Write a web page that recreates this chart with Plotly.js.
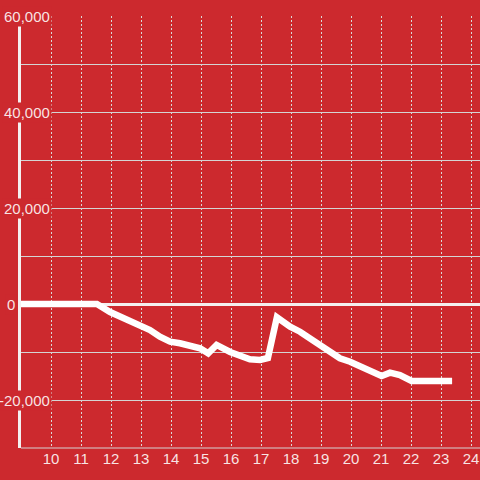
<!DOCTYPE html>
<html>
<head>
<meta charset="utf-8">
<script src="https://cdn.plot.ly/plotly-3.0.1.min.js"></script>
<style>html,body{margin:0;padding:0;background:#cc292e;}#chart{width:480px;height:480px;}</style>
</head>
<body>
<div id="chart"></div>
<script>
// Data
const hours = [9, 11.53, 11.97, 12.3, 12.63, 12.97, 13.3, 13.63, 13.97, 14.3, 14.63, 14.97, 15.24, 15.52, 15.97, 16.3, 16.63, 16.97, 17.23, 17.53, 17.97, 18.3, 18.63, 18.97, 19.3, 19.63, 19.97, 20.3, 20.63, 21.02, 21.3, 21.63, 22.02, 23.37];
const values = [0, 0, -1670, -2650, -3540, -4730, -5420, -6810, -7850, -8190, -8540, -9230, -10270, -8540, -10000, -10830, -11520, -11670, -11250, -2770, -4730, -5770, -7150, -8900, -10270, -11310, -12020, -13060, -13750, -15000, -14310, -14790, -16040, -16040];
const xTicks = [10, 11, 12, 13, 14, 15, 16, 17, 18, 19, 20, 21, 22, 23, 24];
const yLabelValues = [60000, 40000, 20000, 0, -20000];
const yLabelTexts = ["60,000", "40,000", "20,000", "0", "-20,000"];
const yBottom = -30000;

const BG = '#cc292e';
const TXT = 'rgba(255,255,255,0.88)';
const FONT = 'Liberation Sans, Arial, sans-serif';

const trace = {
  x: hours, y: values, type: 'scatter', mode: 'lines',
  line: {color: '#ffffff', width: 6.5},
  hoverinfo: 'skip'
};

// label right edges in pixels from the plot's left edge
const labelRightPx = [31, 31, 31, -4, 31];
const plotW = 459;
const annotations = yLabelValues.map((v, i) => ({
  xref: 'paper', yref: 'y', x: labelRightPx[i] / plotW, y: v,
  xanchor: 'right', yanchor: 'middle', showarrow: false,
  text: yLabelTexts[i], bgcolor: BG, borderpad: 1,
  font: {family: FONT, size: 15, color: TXT}
}));

const layout = {
  width: 480, height: 480,
  margin: {l: 21, r: 0, t: 16, b: 32},
  paper_bgcolor: BG, plot_bgcolor: BG,
  showlegend: false,
  xaxis: {
    range: [9, 24.3], tickvals: xTicks, ticktext: xTicks.map(String),
    showgrid: true, gridcolor: '#d9d9d9', gridwidth: 1, griddash: '2px,2px',
    zeroline: false, showline: false, ticks: '',
    tickfont: {family: FONT, size: 15, color: TXT}
  },
  yaxis: {
    range: [yBottom, 60000], dtick: 10000,
    showgrid: true, gridcolor: '#d4d4d4', gridwidth: 1,
    zeroline: true, zerolinecolor: '#f4f0f0', zerolinewidth: 3,
    showline: true, linecolor: '#f4f0f0', linewidth: 3,
    showticklabels: false, ticks: ''
  },
  shapes: [{
    type: 'line', xref: 'paper', yref: 'paper', x0: 0, x1: 1, y0: 0, y1: 0,
    line: {color: '#d4d4d4', width: 1}, layer: 'below'
  }],
  annotations: annotations
};

Plotly.newPlot('chart', [trace], layout, {staticPlot: true, displayModeBar: false});
</script>
</body>
</html>
